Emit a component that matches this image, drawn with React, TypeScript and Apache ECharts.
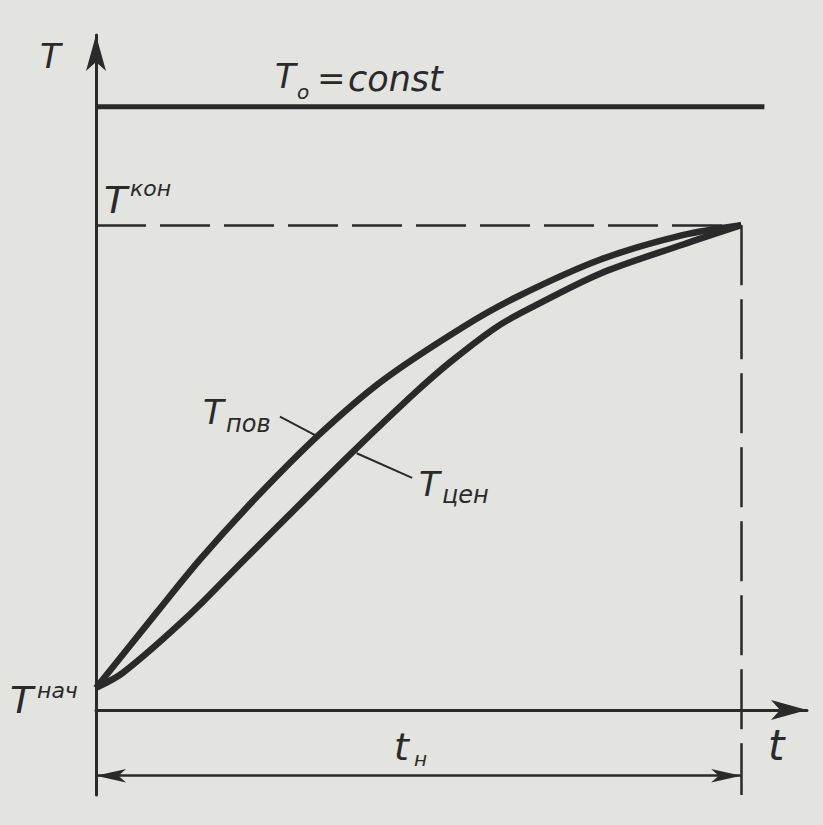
import React, { useEffect, useRef } from "react";
import * as echarts from "echarts";

// Time axis (t), relative units: heating time t_н = 100
const tSurface = [0, 9.45, 16.1, 24.9, 34.7, 44.5, 56.9, 65.2, 78.1, 90.9, 100];
const TSurface = [3.3, 14.7, 22.6, 32.0, 41.5, 49.6, 57.6, 62.1, 67.7, 71.4, 72.9];
const tCenter = [0, 4.2, 14.6, 22.8, 32.1, 39.8, 49.8, 54.9, 61.5, 65.3, 78.1, 91.0, 100];
const TCenter = [3.3, 5.6, 14.4, 22.4, 31.4, 38.8, 48.0, 52.3, 57.2, 59.4, 65.6, 70.0, 72.9];

const T_START = 3.3; // T^нач
const T_END = 72.9; // T^кон
const T_AMBIENT = 90.7; // T0 = const
const T_AMBIENT_END = 103.6;
const T_HEAT = 100; // t_н
const DIM_LEVEL = -9.9;

const X_MAX = 110.2;
const Y_MIN = -12.8;
const Y_MAX = 101.5;

const leaderSurface = [[28.5, 44.1], [34.4, 41.1]];
const leaderCenter = [[40.4, 38.6], [49.0, 34.9]];

const INK = "#2a2a2a";
const FONT = "DejaVu Sans";

function txt(text: string, x: number, y: number, size: number) {
  return {
    type: "text",
    x,
    y,
    style: {
      text,
      fill: INK,
      font: `italic ${size}px "${FONT}"`,
      textAlign: "left",
      textVerticalAlign: "middle",
    },
  };
}

export default function App() {
  const ref = useRef<HTMLDivElement>(null);
  useEffect(() => {
    if (!ref.current) return;
    const chart = echarts.init(ref.current, undefined, { renderer: "svg" });
    const zip = (a: number[], b: number[]) => a.map((v, i) => [v, b[i]]);
    const axisCommon = {
      type: "value",
      axisTick: { show: false },
      axisLabel: { show: false },
      splitLine: { show: false },
    };
    chart.setOption({
      animation: false,
      backgroundColor: "#e3e3df",
      grid: { left: 96, right: 16, top: 35, bottom: 30 },
      xAxis: {
        ...axisCommon,
        min: 0,
        max: X_MAX,
        axisLine: {
          show: true,
          onZero: true,
          symbol: ["none", "arrow"],
          symbolSize: [15, 36],
          lineStyle: { color: INK, width: 3 },
        },
      },
      yAxis: {
        ...axisCommon,
        min: Y_MIN,
        max: Y_MAX,
        axisLine: {
          show: true,
          onZero: true,
          symbol: ["none", "arrow"],
          symbolSize: [15, 36],
          lineStyle: { color: INK, width: 3 },
        },
      },
      series: [
        {
          name: "T0",
          type: "line",
          data: [[0, T_AMBIENT], [T_AMBIENT_END, T_AMBIENT]],
          symbol: "none",
          lineStyle: { color: INK, width: 5 },
          silent: true,
          markLine: {
            silent: true,
            label: { show: false },
            data: [
              [
                { coord: [0, T_END], symbol: "none", lineStyle: { type: [50, 14], width: 2.5, color: INK } },
                { coord: [T_HEAT, T_END], symbol: "none" },
              ],
              [
                { coord: [T_HEAT, T_END], symbol: "none", lineStyle: { type: [60, 14], width: 2.5, color: INK } },
                { coord: [T_HEAT, Y_MIN], symbol: "none" },
              ],
              [
                { coord: [0, DIM_LEVEL], symbol: "arrow", symbolSize: [10, 30], lineStyle: { type: "solid", width: 2.5, color: INK } },
                { coord: [T_HEAT, DIM_LEVEL], symbol: "arrow", symbolSize: [10, 30] },
              ],
            ],
          },
        },
        {
          name: "Tпов",
          type: "line",
          data: zip(tSurface, TSurface),
          smooth: 0.3,
          symbol: "none",
          lineStyle: { color: INK, width: 6.5 },
        },
        {
          name: "Tцен",
          type: "line",
          data: zip(tCenter, TCenter),
          smooth: 0.3,
          symbol: "none",
          lineStyle: { color: INK, width: 6.5 },
        },
        {
          name: "leader-pov",
          type: "line",
          data: leaderSurface,
          symbol: "none",
          lineStyle: { color: INK, width: 2 },
        },
        {
          name: "leader-cen",
          type: "line",
          data: leaderCenter,
          symbol: "none",
          lineStyle: { color: INK, width: 2 },
        },
      ],
      graphic: [
        txt("T", 40, 56, 34),
        txt("T", 275, 76, 34),
        txt("o", 297, 92, 20),
        txt("=", 317, 78, 34),
        txt("const", 348, 79, 35),
        txt("T", 104, 200, 38),
        txt("кон", 130, 188, 22),
        txt("T", 10, 700, 38),
        txt("нач", 37, 690, 22),
        txt("T", 203, 412, 34),
        txt("пов", 226, 424, 24),
        txt("T", 419, 484, 34),
        txt("цен", 442, 495, 24),
        txt("t", 394, 747, 38),
        txt("н", 414, 759, 20),
        txt("t", 768, 745, 42),
      ],
    });
    return () => chart.dispose();
  }, []);
  return (
    <div
      ref={ref}
      style={{ position: "absolute", left: 0, top: 0, width: 823, height: 825 }}
    />
  );
}
